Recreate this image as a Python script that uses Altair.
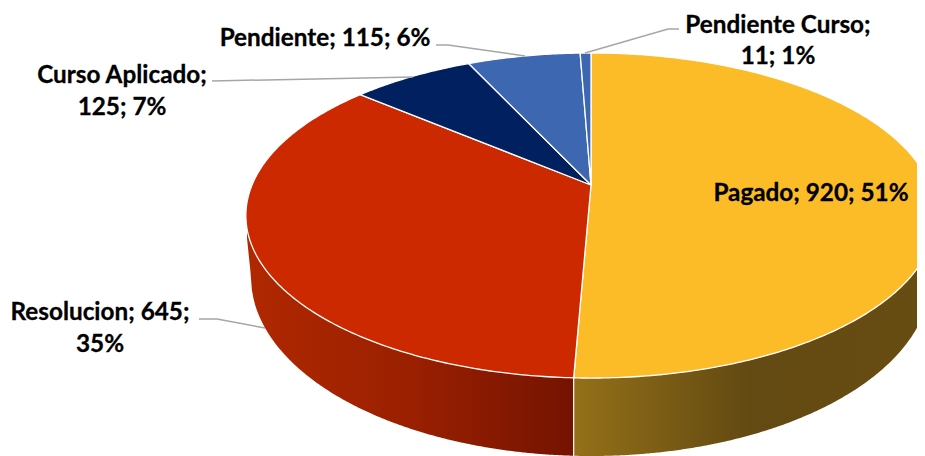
import math
import altair as alt
import pandas as pd

names = ["Pagado", "Resolucion", "Curso Aplicado", "Pendiente", "Pendiente Curso"]
values = [920, 645, 125, 115, 11]
percents = [51, 35, 7, 6, 1]
colors = ["#fbbc27", "#cc2900", "#002060", "#3e67b1", "#3e67b1"]

# projection of the tilted disc into the picture
CX, APEX_Y, A, B, K = 591, 185, 339, 156.8, 0.1877


def disc(theta):
    u, v = math.sin(theta), math.cos(theta)
    d = 1 + K * v
    return CX + A * u / d, APEX_Y - B * v / d


def top_edge(x):
    dx = (x - CX) / 345
    return 215.5 + 162.5 * math.sqrt(max(0, 1 - dx * dx))


def bottom_edge(x):
    dx = (x - CX) / 340
    if abs(dx) >= 1:
        return 277 - (251 - x) * 9.75
    return 277 + 179 * math.sqrt(1 - dx * dx)


X = alt.X("x:Q", scale=alt.Scale(domain=[8, 917]), axis=None)
Y = alt.Y("y:Q", scale=alt.Scale(domain=[456, 8]), axis=None)
Y2 = alt.Y2("y2:Q")

layers = []


def wall(x0, x1, stops):
    rows = [{"x": x0 + (x1 - x0) * i / 200} for i in range(201)]
    for r in rows:
        r["y"] = top_edge(r["x"])
        r["y2"] = bottom_edge(r["x"])
    return alt.Chart(pd.DataFrame(rows)).mark_area(
        clip=True,
        color=alt.Gradient(gradient="linear", x1=0, x2=1, y1=0, y2=0, stops=stops),
    ).encode(x=X, y=Y, y2=Y2)


total = sum(values)
boundary = 2 * math.pi * values[0] / total
split_x = disc(boundary)[0]

layers.append(wall(247, split_x, [
    alt.GradientStop(offset=0, color="#b02800"),
    alt.GradientStop(offset=0.5, color="#9a2000"),
    alt.GradientStop(offset=1, color="#741300"),
]))
layers.append(wall(split_x, 937, [
    alt.GradientStop(offset=0, color="#947018"),
    alt.GradientStop(offset=0.48, color="#634a12"),
    alt.GradientStop(offset=1, color="#684d12"),
]))
layers.append(alt.Chart(pd.DataFrame({"x": [split_x, split_x], "y": [top_edge(split_x), 456]}))
              .mark_line(color="white", strokeWidth=1.2, clip=True).encode(x=X, y=Y))

start = 0.0
for name, value, col in zip(names, values, colors):
    t0 = 2 * math.pi * start / total
    t1 = 2 * math.pi * (start + value) / total
    steps = max(4, int(value / 3))
    pts = [(CX, APEX_Y)] + [disc(t0 + (t1 - t0) * i / steps) for i in range(steps + 1)] + [(CX, APEX_Y)]
    df = pd.DataFrame({"x": [p[0] for p in pts], "y": [p[1] for p in pts], "o": range(len(pts))})
    layers.append(alt.Chart(df).mark_line(fill=col, stroke="white", strokeWidth=1.3, clip=True, strokeJoin="round")
                  .encode(x=X, y=Y, order="o:Q"))
    start += value

leaders = [
    [(436, 45), (448, 45), (525, 56)],
    [(212, 81), (413, 77)],
    [(679, 29), (668, 29), (585, 53)],
    [(199, 319), (217, 319), (265, 328)],
]
for pts in leaders:
    df = pd.DataFrame({"x": [p[0] for p in pts], "y": [p[1] for p in pts], "o": range(len(pts))})
    layers.append(alt.Chart(df).mark_line(color="#a6a6a6", strokeWidth=1.5).encode(x=X, y=Y, order="o:Q"))

label_rows = [
    (811, 194, f"{names[0]}; {values[0]}; {percents[0]}%"),
    (778, 26, f"{names[4]};"),
    (778, 57, f"{values[4]}; {percents[4]}%"),
    (325, 39, f"{names[3]}; {values[3]}; {percents[3]}%"),
    (122, 76, f"{names[2]};"),
    (122, 108, f"{values[2]}; {percents[2]}%"),
    (100, 313, f"{names[1]}; {values[1]};"),
    (100, 345, f"{percents[1]}%"),
]
ldf = pd.DataFrame(label_rows, columns=["x", "y", "t"])
layers.append(alt.Chart(ldf).mark_text(font="Lato", fontWeight="bold", fontSize=24.3, color="#000000",
                                       stroke="#000000", strokeWidth=0.3,
                                       baseline="middle", align="center")
              .encode(x=X, y=Y, text="t:N"))

chart = alt.layer(*layers).properties(
    width=909, height=448, padding=0, autosize=alt.AutoSizeParams(type="none"), background="white"
).configure_view(stroke=None)

chart.save("out.html", embed_options={"renderer": "svg", "actions": False})
